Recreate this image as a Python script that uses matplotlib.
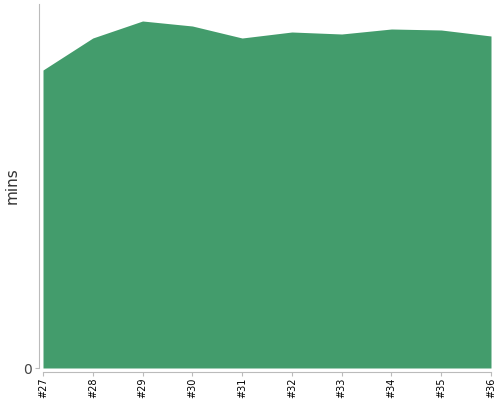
import matplotlib
matplotlib.use('Agg')
import matplotlib.pyplot as plt

# builds and their duration
builds = ['#27', '#28', '#29', '#30', '#31', '#32', '#33', '#34', '#35', '#36']
mins = [29.8, 33.0, 34.7, 34.2, 33.0, 33.6, 33.4, 33.9, 33.8, 33.2]

fig = plt.figure(figsize=(5, 4), dpi=100)
ax = fig.add_axes([43 / 500, 32 / 400, 448 / 500, 364 / 400])

x = list(range(len(builds)))
ax.fill_between(x, 0, mins, color='#439c6c', linewidth=0)

ax.set_xlim(0, len(builds) - 1)
ax.set_ylim(0, 36.4)
ax.set_xticks(x)
ax.set_xticklabels(builds)
ax.set_yticks([0])
ax.tick_params(axis='y', labelsize=10, labelcolor='#444', color='#bbb', length=3, pad=2)
ax.tick_params(axis='x', labelrotation=90, labelsize=7, color='#bbb', length=3, pad=1)

# d3 style axes, a bit detached from the plot
for side in ['top', 'right']:
    ax.spines[side].set_visible(False)
ax.spines['left'].set_position(('outward', 3))
ax.spines['bottom'].set_position(('outward', 3))
ax.spines['left'].set_color('#bbb')
ax.spines['bottom'].set_color('#bbb')

ax.set_ylabel('mins', fontsize=11, color='#333')
ax.yaxis.set_label_coords(-0.052, 0.5)

fig.savefig('out.png')
